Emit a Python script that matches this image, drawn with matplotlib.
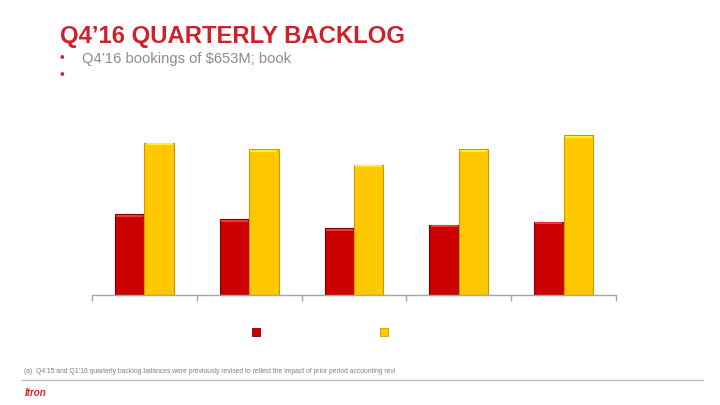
import numpy as np
import matplotlib
matplotlib.use("Agg")
import matplotlib.pyplot as plt

plt.rcParams["font.family"] = ["Liberation Sans", "DejaVu Sans"]

# Quarterly backlog ($M) -- no axis in the source
quarters = ["Q4'15", "Q1'16", "Q2'16", "Q3'16", "Q4'16"]
twelve_month = [807, 757, 667, 703, 733]
total_backlog = [1523, 1457, 1303, 1457, 1597]

title = "Q4\u201916 QUARTERLY BACKLOG"
bullet1 = "Q4\u201916 bookings of $653M; book"
footnote = ("(a)  Q4\u201915 and Q1\u201916 quarterly backlog balances were previously "
            "revised to reflect the impact of prior period accounting revi")

RED = "#CC0000"
RED_EDGE = "#7A0000"
RED_TOP = "#F0383C"
YEL = "#FFC800"
YEL_EDGE = "#C99A00"
YEL_TOP = "#FFEE30"
TITLE_RED = "#D0202A"
GREY = "#8C8C8C"

W, H = 720, 405
fig = plt.figure(figsize=(W / 100, H / 100), dpi=100)


def fx(px):
    return px / W


def fy(py):
    return 1 - py / H


# header text
fig.text(fx(60), fy(43), title, color=TITLE_RED, fontsize=17.2,
         fontweight="bold", va="baseline")
fig.text(fx(60), fy(62), "\u2022", color=TITLE_RED, fontsize=9.5, va="baseline")
fig.text(fx(82), fy(63), bullet1, color=GREY, fontsize=10.6, va="baseline")
fig.text(fx(60), fy(79), "\u2022", color=TITLE_RED, fontsize=9.5, va="baseline")

# chart
ax = fig.add_axes([fx(92), fy(295), fx(616) - fx(92), fy(115) - fy(295)])
x = np.arange(len(quarters))
bw = 0.28
tw = np.array(twelve_month, float)
tb = np.array(total_backlog, float)

ax.bar(x - bw / 2, tw, bw, color=RED, edgecolor=RED_EDGE, linewidth=0.8, zorder=2)
ax.bar(x + bw / 2, tb, bw, color=YEL, edgecolor=YEL_EDGE, linewidth=0.8, zorder=2)
# bevel highlight along bar tops
cap = 22
ax.bar(x - bw / 2, cap, bw * 0.92, bottom=tw - cap - 6, color=RED_TOP,
       linewidth=0, zorder=3)
ax.bar(x + bw / 2, cap, bw * 0.92, bottom=tb - cap - 6, color=YEL_TOP,
       linewidth=0, zorder=3)

ax.set_xlim(-0.5, len(quarters) - 0.5)
ax.set_ylim(0, 1800)
for s in ["top", "right", "left"]:
    ax.spines[s].set_visible(False)
ax.spines["bottom"].set_color("#A6A6A6")
ax.spines["bottom"].set_linewidth(1.0)
ax.set_yticks([])
ax.set_xticks([])
ax.set_xticks(np.arange(len(quarters) + 1) - 0.5, minor=True)
ax.tick_params(axis="x", which="minor", length=4, color="#A6A6A6", width=1.0,
               labelbottom=False)
ax.patch.set_visible(False)

# legend markers (no labels in the source)
lax = fig.add_axes([0, 0, 1, 1])
lax.set_xlim(0, W)
lax.set_ylim(H, 0)
lax.axis("off")
lax.scatter([256], [332], marker="s", s=26, color=RED, edgecolors=RED_EDGE,
            linewidths=0.6)
lax.scatter([384], [332], marker="s", s=26, color=YEL, edgecolors=YEL_EDGE,
            linewidths=0.6)

# footer
fig.text(fx(24), fy(373), footnote, color="#7F7F7F", fontsize=4.9, va="baseline")
lax.plot([22, 703], [380, 380], color="#BFBFBF", lw=1.0)
fig.text(fx(25), fy(396), "Itron", color="#E0201C", fontsize=7,
         fontweight="bold", style="italic", va="baseline")

fig.savefig("out.png", dpi=100)
